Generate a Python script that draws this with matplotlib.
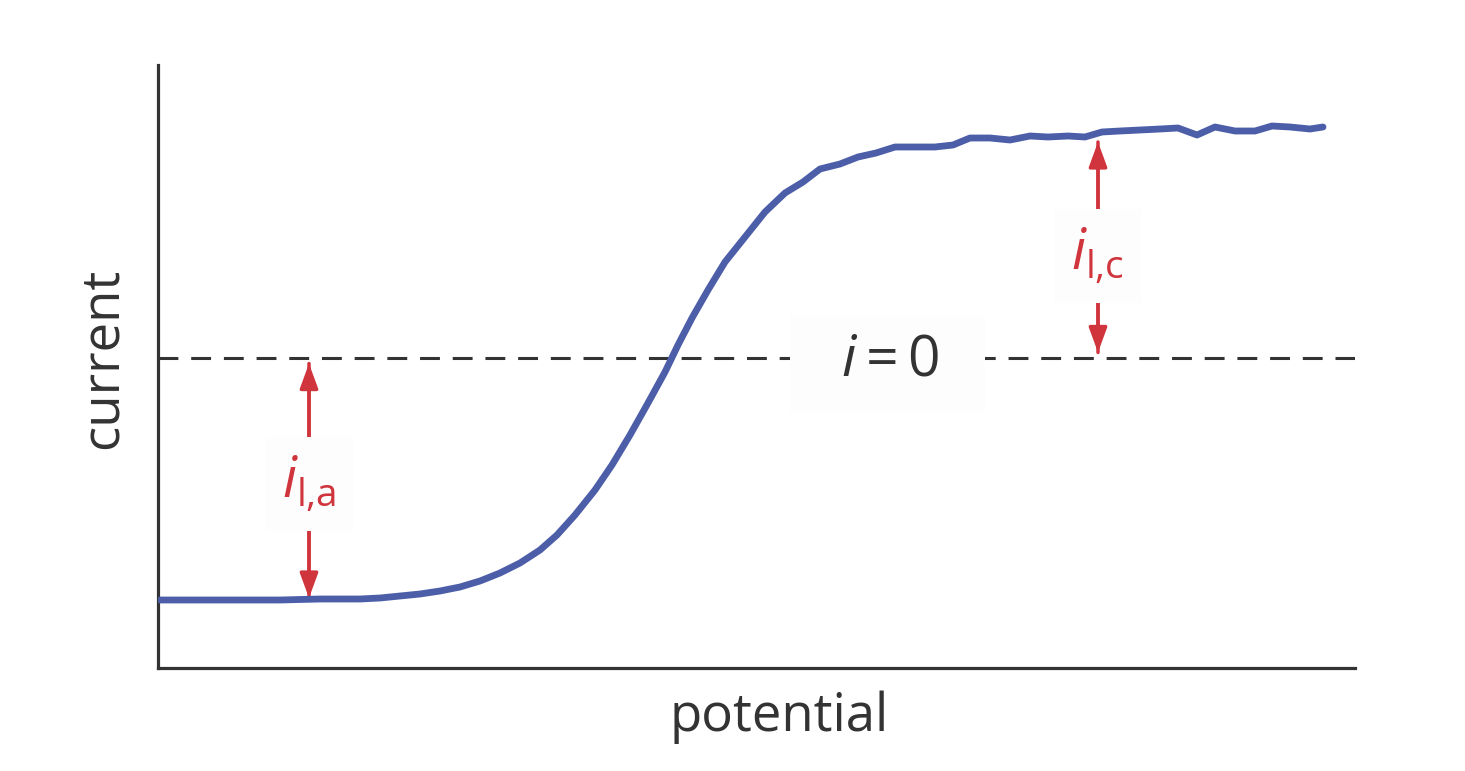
import matplotlib
matplotlib.use('Agg')
import matplotlib.pyplot as plt
from matplotlib.patches import Rectangle

plt.rcParams['font.family'] = ['Open Sans', 'DejaVu Sans']
plt.rcParams['mathtext.fontset'] = 'custom'
plt.rcParams['mathtext.rm'] = 'Open Sans'
plt.rcParams['mathtext.it'] = 'Open Sans:italic'

# ── curve (arbitrary units, i = 0 at current 0) ──
potential = [2, 42, 82, 122, 162, 202, 222, 242, 262, 282, 302, 322, 342, 362,
             382, 399, 417, 437, 454, 472, 490, 507, 520, 534, 550, 567, 587,
             607, 627, 645, 662, 682, 700, 718, 737, 757, 777, 795, 812, 832,
             852, 872, 890, 910, 927, 944, 962, 982, 1002, 1020, 1039, 1057,
             1077, 1097, 1114, 1132, 1152, 1165]
current = [-242, -242, -242, -242, -241, -241, -240, -238, -236, -233, -229,
           -223, -215, -205, -192, -177, -157, -132, -107, -77, -45, -14, 13,
           40, 68, 96, 121, 146, 165, 176, 189, 194, 201, 205, 211, 211, 211,
           213, 220, 220, 218, 222, 221, 222, 221, 226, 227, 228, 229, 230,
           223, 231, 227, 227, 232, 231, 229, 231]

i_lim_a = -240   # anodic limiting current
i_lim_c = 216    # cathodic limiting current
x_lim_a = 151
x_lim_c = 940

fig = plt.figure(figsize=(14.65, 7.71), dpi=100)
ax = fig.add_axes([158 / 1465, 103 / 771, 1197 / 1465, 603 / 771])
ax.set_xlim(0, 1197)
ax.set_ylim(-310, 293)

for s in ['top', 'right']:
    ax.spines[s].set_visible(False)
for s in ['left', 'bottom']:
    ax.spines[s].set_color('#333333')
    ax.spines[s].set_linewidth(2.3)
ax.set_xticks([])
ax.set_yticks([])

# i = 0 line
ax.axhline(0, color='#333333', lw=2.2, ls=(0, (6.5, 4.2)), zorder=1)

ax.plot(potential, current, color='#4d5ea9', lw=4.9, solid_capstyle='round',
        solid_joinstyle='round', zorder=3)

# label for the zero line, on a faint box that breaks the dashes
ax.add_patch(Rectangle((632, -54), 195, 97, fc='#fdfdfd', ec='none', zorder=2))
ax.text(732, -3, r'$i = 0$', fontsize=41, color='#333333',
        ha='center', va='center', zorder=4)

red = '#d0343c'
head = 'head_length=1.5,head_width=0.55'
for x0, y1, lab in [(x_lim_a, i_lim_a, r'$i_{\mathrm{l{,}a}}$'),
                    (x_lim_c, i_lim_c, r'$i_{\mathrm{l{,}c}}$')]:
    ax.annotate('', xy=(x0, y1), xytext=(x0, 0),
                arrowprops=dict(arrowstyle='-|>,' + head, color=red, lw=2.5,
                                shrinkA=4, shrinkB=0), zorder=2)
    ax.annotate('', xy=(x0, 0), xytext=(x0, y1),
                arrowprops=dict(arrowstyle='-|>,' + head, color=red, lw=2.5,
                                shrinkA=0, shrinkB=4), zorder=2)
    ax.text(x0, y1 / 2 - 6, lab, fontsize=40, color=red, ha='center',
            va='center', zorder=4,
            bbox=dict(boxstyle='square,pad=0.3', fc='#fdfdfd', ec='none'))

ax.set_xlabel('potential', fontsize=38, color='#333333')
ax.set_ylabel('current', fontsize=38, color='#333333')
ax.xaxis.set_label_coords(0.519, -0.038)
ax.yaxis.set_label_coords(-0.024, 0.514)

fig.savefig('out.png', dpi=100, facecolor='white')
